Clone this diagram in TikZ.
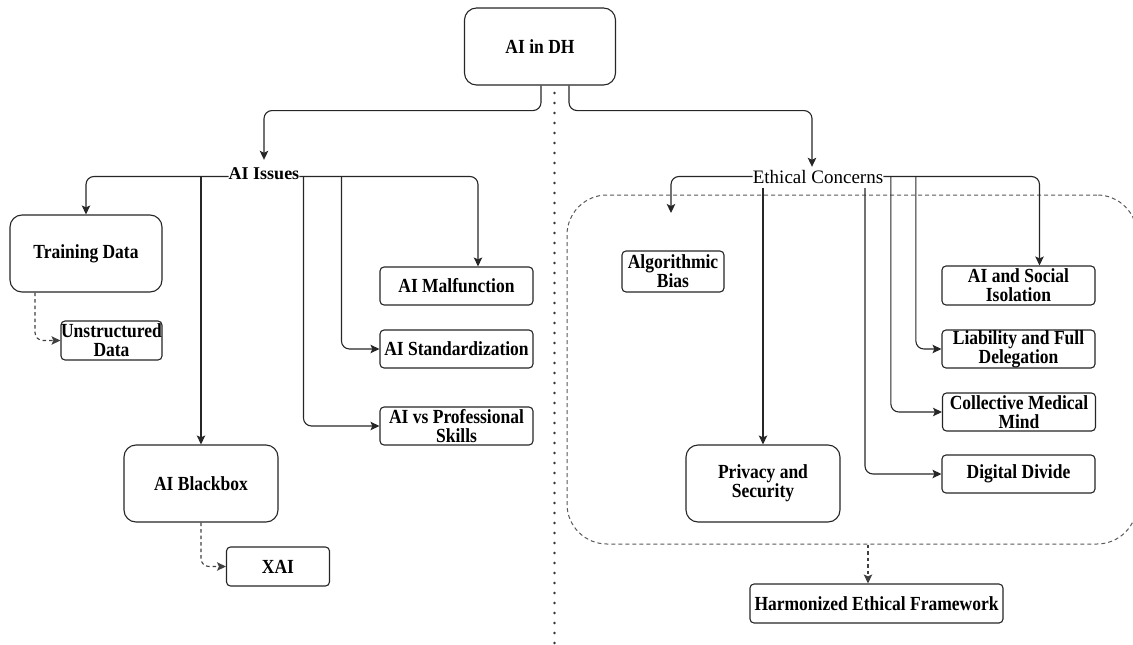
\documentclass[tikz,border=0pt]{standalone}
\usepackage{fontspec}
\setmainfont{Liberation Serif}
\newfontfamily\tallserif{Liberation Serif}[FakeStretch=0.875]
\usetikzlibrary{arrows.meta}
\begin{document}
\begin{tikzpicture}[x=1pt,y=-1pt,
  box/.style={draw=black!85, line width=1.1pt, rounded corners=4pt, fill=white, align=center,
    font=\tallserif\fontsize{20}{19}\selectfont\bfseries, inner sep=0pt},
  bigbox/.style={box, rounded corners=12pt},
  lbl/.style={inner xsep=0pt, text height=14pt, text depth=3pt, anchor=base},
  con/.style={draw=black!85, line width=1.1pt, rounded corners=8pt,
    -{Stealth[length=9pt,width=8.5pt,inset=2pt]}},
  dcon/.style={con, draw=black!75, dash pattern=on 3.5pt off 3pt},
  sep/.style={draw=black!80, line width=2.7pt, line cap=round, dash pattern=on 0pt off 10pt},
  grpbox/.style={draw=black!65, line width=1pt, dash pattern=on 4pt off 3pt, rounded corners=40pt}
]
\useasboundingbox (0,0) rectangle (1133,645);

% separator
\coordinate (sepT) at (554.5,93);
\coordinate (sepB) at (554.5,645);
\draw[sep] (sepT) -- (sepB);

% group region
\node[grpbox, minimum width=570pt, minimum height=349pt, inner sep=0pt] (grp) at (852,369.5) {};

% top
\node[bigbox, minimum width=151pt, minimum height=77pt] (dh) at (540,46.5) {AI in DH};

% labels
\node[lbl, inner ysep=5pt, font=\fontsize{18}{20}\selectfont\bfseries] (iss) at (264,179) {AI Issues};
\node[lbl, inner ysep=2pt, font=\fontsize{19}{21}\selectfont] (eth) at (818,183) {Ethical Concerns};

% left boxes
\node[bigbox, minimum width=152pt, minimum height=77pt] (trn) at (86,253.5) {Training Data};
\node[box, minimum width=101pt, minimum height=39pt] (uns) at (111.5,340.5) {Unstructured\\Data};
\node[bigbox, minimum width=154pt, minimum height=77pt] (blk) at (201,483.5) {AI Blackbox};
\node[box, minimum width=103pt, minimum height=39pt] (xai) at (278,566.5) {XAI};
\node[box, minimum width=153pt, minimum height=38pt] (mal) at (456.5,286) {AI Malfunction};
\node[box, minimum width=153pt, minimum height=38pt] (std) at (456.5,349) {AI Standardization};
\node[box, minimum width=153pt, minimum height=38pt] (prof) at (456.5,426) {AI vs Professional\\Skills};

% right boxes
\node[box, minimum width=102pt, minimum height=41pt] (alg) at (673,271.5) {Algorithmic\\Bias};
\node[box, minimum width=153pt, minimum height=39pt] (soc) at (1018.5,285.5) {AI and Social\\Isolation};
\node[box, minimum width=153pt, minimum height=38pt] (lia) at (1018.5,349) {Liability and Full\\Delegation};
\node[box, minimum width=153pt, minimum height=38pt] (col) at (1019,412) {Collective Medical\\Mind};
\node[box, minimum width=153pt, minimum height=38pt] (dig) at (1018.5,474) {Digital Divide};
\node[bigbox, minimum width=154pt, minimum height=77pt] (prv) at (763,483.5) {Privacy and\\Security};
\node[box, minimum width=253pt, minimum height=39pt] (har) at (876.5,603.5) {Harmonized Ethical Framework};

% helper coordinates
\coordinate (issL) at ([yshift=-3pt]iss.west);
\coordinate (issR) at ([yshift=-3pt]iss.east);
\coordinate (ethL) at ([yshift=1pt]eth.west);
\coordinate (ethR) at ([yshift=1pt]eth.east);
\coordinate (algT) at (671,213);
\coordinate (harT) at ([xshift=-8.5pt]har.north);

% top connectors
\draw[con] ([xshift=1pt]dh.south) -- ++(0,25) -| (iss.north);
\draw[con] ([xshift=29pt]dh.south) -- ++(0,25) -| ([xshift=-6pt]eth.north);

% AI issues
\draw[con] (issL) -| (trn.north);
\draw[con] (blk.north |- issL) -- (blk.north);
\draw[con] (issR) -| ([xshift=21.5pt]mal.north);
\draw[con] ([xshift=42pt]issR) |- (std.west);
\draw[con] ([xshift=4pt]issR) |- (prof.west);
\draw[dcon] ([xshift=-51pt]trn.south) |- (uns.west);
\draw[dcon] (blk.south) |- (xai.west);

% Ethical concerns
\draw[con] (ethL) -| (algT);
\draw[con] (eth.south -| prv.north) -- (prv.north);
\draw[con] ([xshift=47pt]eth.south) |- (dig.west);
\draw[con] ([xshift=7.5pt]ethR) |- (col.west);
\draw[con] ([xshift=32.5pt]ethR) |- (lia.west);
\draw[con] (ethR) -| ([xshift=21pt]soc.north);
\draw[dcon] (grp.south -| harT) -- (harT);
\end{tikzpicture}
\end{document}
